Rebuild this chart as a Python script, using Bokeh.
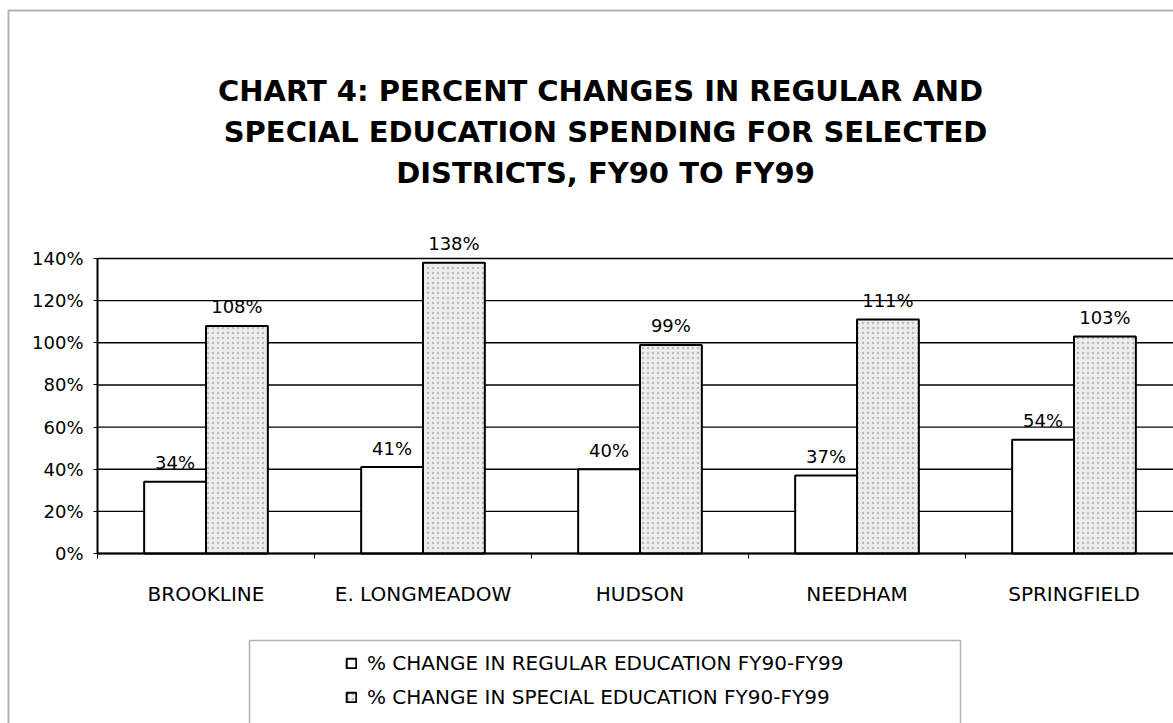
from bokeh.plotting import figure
from bokeh.models import (Range1d, FixedTicker, PrintfTickFormatter, Label, Legend,
                          LegendItem, BoxAnnotation, ColumnDataSource)
from bokeh.core.properties import value
from bokeh.embed import file_html
from bokeh.resources import INLINE

# ---- data ----
districts = ["BROOKLINE", "E. LONGMEADOW", "HUDSON", "NEEDHAM", "SPRINGFIELD"]
regular_pct = [34, 41, 40, 37, 54]
special_pct = [108, 138, 99, 111, 103]
y_ticks = [0, 20, 40, 60, 80, 100, 120, 140]
series_names = ["% CHANGE IN REGULAR EDUCATION FY90-FY99",
                "% CHANGE IN SPECIAL EDUCATION FY90-FY99"]
title_lines = ["CHART 4:  PERCENT CHANGES IN REGULAR AND",
               "SPECIAL EDUCATION SPENDING FOR SELECTED",
               "DISTRICTS, FY90 TO FY99"]

FONT = "DejaVu Sans"
W, H = 1173, 723
FL, FB = 97, 553          # plot-area left / zero line (canvas px)
CAT_PX = 217              # pixels per category
PX = 2.107                # pixels per percent


def px2x(cx):
    return (cx - FL) / CAT_PX


def px2y(cy):
    return (FB - cy) / PX


XEND = px2x(W)
p = figure(width=W, height=H, output_backend="svg", toolbar_location=None,
           x_range=Range1d(px2x(0), XEND), y_range=Range1d(px2y(H), px2y(0)),
           min_border=0, min_border_left=0, min_border_right=0,
           min_border_top=0, min_border_bottom=0)
p.outline_line_color = None
p.background_fill_color = "white"
p.border_fill_color = "white"
p.xgrid.grid_line_color = None
p.ygrid.grid_line_color = None

n = len(districts)
centers = [i + 0.5 for i in range(n)]
bw = 0.285
reg_x = [c - bw / 2 for c in centers]
spe_x = [c + bw / 2 for c in centers]

src_r = ColumnDataSource(dict(x=reg_x, top=regular_pct,
                              lab=[f"{v}%" for v in regular_pct]))
src_s = ColumnDataSource(dict(x=spe_x, top=special_pct,
                              lab=[f"{v}%" for v in special_pct]))

# horizontal gridlines, limited to the plot area
p.segment(x0=[0] * len(y_ticks), x1=[XEND] * len(y_ticks), y0=y_ticks, y1=y_ticks,
          line_color="black", line_width=1.4, level="underlay")

r_reg = p.vbar(x="x", top="top", width=bw, bottom=0, source=src_r,
               fill_color="white", line_color="black", line_width=2)
r_spe = p.vbar(x="x", top="top", width=bw, bottom=0, source=src_s,
               fill_color="#ededed", line_color="black", line_width=2,
               hatch_pattern="dot", hatch_color="#999999", hatch_scale=5,
               hatch_weight=0.6, hatch_alpha=0.6)

for src in (src_r, src_s):
    p.text(x="x", y="top", text="lab", source=src, text_align="center",
           text_baseline="alphabetic", y_offset=-19,
           text_font=value(FONT), text_font_size="18px", text_color="black")

# y axis (drawn at x = 0)
p.yaxis.fixed_location = 0
p.yaxis.ticker = FixedTicker(ticks=y_ticks)
p.yaxis.formatter = PrintfTickFormatter(format="%d%%")
p.yaxis.bounds = (0, 140)
p.yaxis.axis_line_width = 2
p.yaxis.axis_line_color = "black"
p.yaxis.major_tick_out = 4
p.yaxis.major_tick_in = 0
p.yaxis.major_tick_line_color = "black"
p.yaxis.minor_tick_line_color = None
p.yaxis.major_label_standoff = 10
p.yaxis.major_label_text_font = FONT
p.yaxis.major_label_text_font_size = "18px"
p.yaxis.major_label_text_color = "black"

# x axis (drawn at y = 0)
p.xaxis.fixed_location = 0
p.xaxis.ticker = FixedTicker(ticks=centers, minor_ticks=list(range(n + 1)))
p.xaxis.major_label_overrides = {c: d for c, d in zip(centers, districts)}
p.xaxis.bounds = (0, XEND)
p.xaxis.axis_line_width = 2
p.xaxis.axis_line_color = "black"
p.xaxis.major_tick_out = 0
p.xaxis.major_tick_in = 0
p.xaxis.minor_tick_out = 5
p.xaxis.minor_tick_in = 0
p.xaxis.minor_tick_line_color = "black"
p.xaxis.major_label_standoff = 23
p.xaxis.major_label_text_font = FONT
p.xaxis.major_label_text_font_size = "20px"
p.xaxis.major_label_text_color = "black"

# title
for i, line in enumerate(title_lines):
    p.add_layout(Label(x=px2x(605), y=px2y(90 + 41 * i),
                       text=line, text_align="center", text_baseline="alphabetic",
                       text_font=FONT, text_font_style="bold",
                       text_font_size="29px", text_color="black"))

# legend box and outer frame
p.add_layout(BoxAnnotation(left=px2x(249), right=px2x(960),
                           top=px2y(640), bottom=px2y(760),
                           fill_alpha=0, line_color="black", line_width=1.5))
p.add_layout(BoxAnnotation(left=px2x(8), right=px2x(1300),
                           top=px2y(10), bottom=px2y(800),
                           fill_alpha=0, line_color="black", line_width=2))

legend = Legend(items=[LegendItem(label=series_names[0], renderers=[r_reg]),
                       LegendItem(label=series_names[1], renderers=[r_spe])],
                location=(345, 14), orientation="vertical",
                padding=0, margin=0, spacing=10,
                glyph_width=12, glyph_height=12, label_height=22,
                label_standoff=10, label_text_font=FONT,
                label_text_font_size="20px", label_text_color="black",
                border_line_color=None, background_fill_alpha=0)
p.add_layout(legend, "center")

open("out.html", "w").write(file_html(p, INLINE))
